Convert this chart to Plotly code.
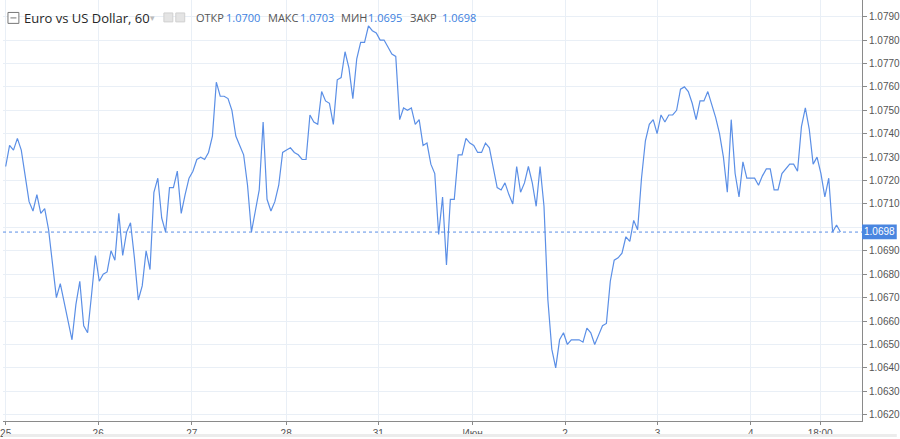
import plotly.graph_objects as go

# Hourly closing prices (EUR/USD, 60-minute bars)
prices = [
    1.0726, 1.0735, 1.0733, 1.0738, 1.0733, 1.0722, 1.0711, 1.0707, 1.0714, 1.0706,
    1.0708, 1.0699, 1.0685, 1.0670, 1.0676, 1.0668, 1.0660, 1.0652, 1.0667, 1.0677,
    1.0658, 1.0655, 1.0671, 1.0688, 1.0677, 1.0680, 1.0681, 1.0690, 1.0686, 1.0706,
    1.0688, 1.0698, 1.0702, 1.0687, 1.0669, 1.0675, 1.0690, 1.0682, 1.0715, 1.0721,
    1.0704, 1.0698, 1.0717, 1.0717, 1.0724, 1.0706, 1.0714, 1.0721, 1.0724, 1.0729,
    1.0730, 1.0729, 1.0732, 1.0739, 1.0762, 1.0756, 1.0756, 1.0755, 1.0750, 1.0739,
    1.0735, 1.0731, 1.0718, 1.0698, 1.0707, 1.0716, 1.0745, 1.0712, 1.0707, 1.0711,
    1.0718, 1.0732, 1.0733, 1.0734, 1.0732, 1.0731, 1.0729, 1.0729, 1.0748, 1.0745,
    1.0744, 1.0758, 1.0754, 1.0753, 1.0744, 1.0763, 1.0764, 1.0775, 1.0768, 1.0755,
    1.0772, 1.0779, 1.0779, 1.0786, 1.0784, 1.0783, 1.0780, 1.0780, 1.0777, 1.0774,
    1.0773, 1.0746, 1.0751, 1.0750, 1.0751, 1.0744, 1.0746, 1.0735, 1.0736, 1.0727,
    1.0723, 1.0697, 1.0713, 1.0684, 1.0712, 1.0712, 1.0731, 1.0731, 1.0738, 1.0736,
    1.0735, 1.0732, 1.0732, 1.0736, 1.0734, 1.0726, 1.0717, 1.0716, 1.0719, 1.0714,
    1.0710, 1.0726, 1.0715, 1.0719, 1.0726, 1.0719, 1.0709, 1.0726, 1.0709, 1.0669,
    1.0648, 1.0640, 1.0652, 1.0655, 1.0650, 1.0652, 1.0652, 1.0652, 1.0651, 1.0657,
    1.0655, 1.0650, 1.0654, 1.0658, 1.0659, 1.0677, 1.0686, 1.0687, 1.0689, 1.0696,
    1.0694, 1.0703, 1.0699, 1.0721, 1.0737, 1.0744, 1.0746, 1.0740, 1.0748, 1.0745,
    1.0748, 1.0748, 1.0750, 1.0759, 1.0760, 1.0758, 1.0753, 1.0746, 1.0754, 1.0754,
    1.0758, 1.0753, 1.0747, 1.0740, 1.0730, 1.0715, 1.0746, 1.0723, 1.0713, 1.0728,
    1.0721, 1.0721, 1.0721, 1.0718, 1.0722, 1.0725, 1.0725, 1.0716, 1.0716, 1.0723,
    1.0725, 1.0727, 1.0727, 1.0724, 1.0743, 1.0751, 1.0742, 1.0727, 1.0730, 1.0723,
    1.0713, 1.0721, 1.0698, 1.0701, 1.0698,
]
bar_index = list(range(len(prices)))

# Time-axis labels and the bar positions where they sit
x_tick_labels = ["25", "26", "27", "28", "31", "Июн", "2", "3", "4", "18:00"]
x_tick_bars = [0, 23.7, 47.7, 71.9, 95.5, 119.7, 143.4, 167.1, 191.0, 208.8]

# Price-axis ticks (the 1.0700 label sits under the last-price box)
y_tick_values = [round(1.0620 + 0.001 * k, 4) for k in range(18)]
y_tick_labels = ["" if abs(v - 1.0700) < 1e-9 else f"{v:.4f}" for v in y_tick_values]

# Header
symbol_title = "Euro vs US Dollar, 60"
ohlc_labels = ["ОТКР", "МАКС", "МИН", "ЗАКР"]
ohlc_values = ["1.0700", "1.0703", "1.0695", "1.0698"]
last_price = prices[-1]

LINE = "#5b8fe6"
GRID = "#e9eff6"
AXIS = "#8a8a8a"
TXT = "#555555"

W, H = 900, 439
ML, MR, MT, MB = 0, 35, 0, 16
PW, PH = W - ML - MR, H - MT - MB


def px(xp):
    return (xp - ML) / PW


def py(yp):
    return (H - MB - yp) / PH


fig = go.Figure()
fig.add_trace(go.Scatter(
    x=bar_index, y=prices, mode="lines",
    line=dict(color=LINE, width=1.2),
    hoverinfo="skip", showlegend=False,
))

shapes = []
# dotted last-price line
shapes.append(dict(type="line", xref="paper", yref="y", x0=0, x1=1,
                   y0=last_price, y1=last_price,
                   line=dict(color=LINE, width=1, dash="dot")))
# price label box on the axis
shapes.append(dict(type="rect", xref="paper", yref="paper",
                   x0=1.0, x1=px(900), y0=py(240.5), y1=py(225.5),
                   fillcolor="#4a86e0", line=dict(width=0), layer="above"))
# header icons
shapes.append(dict(type="rect", xref="paper", yref="paper",
                   x0=px(5), x1=px(16), y0=py(23.5), y1=py(12.5),
                   line=dict(color="#777777", width=1), fillcolor="white"))
shapes.append(dict(type="line", xref="paper", yref="paper",
                   x0=px(7.5), x1=px(13.5), y0=py(18), y1=py(18),
                   line=dict(color="#777777", width=1)))
for x0 in (162, 174):
    shapes.append(dict(type="rect", xref="paper", yref="paper",
                       x0=px(x0), x1=px(x0 + 9), y0=py(22), y1=py(13),
                       line=dict(color="#d0d0d0", width=1), fillcolor="#e4e4e4"))
# bottom gray strip
shapes.append(dict(type="rect", xref="paper", yref="paper",
                   x0=px(0), x1=px(900), y0=py(439), y1=py(436),
                   fillcolor="#ececec", line=dict(width=0)))

annotations = []
annotations.append(dict(xref="paper", yref="paper", x=px(19), y=py(18),
                        xanchor="left", yanchor="middle", showarrow=False,
                        text=symbol_title,
                        font=dict(family="Open Sans, sans-serif", size=13, color="#262626")))
annotations.append(dict(xref="paper", yref="paper", x=px(146), y=py(18),
                        xanchor="left", yanchor="middle", showarrow=False,
                        text="▾", font=dict(family="DejaVu Sans", size=9, color="#bbbbbb")))
label_x = [192, 265, 338, 408]
value_x = [223, 297, 366, 440]
for lab, val, lx, vx in zip(ohlc_labels, ohlc_values, label_x, value_x):
    annotations.append(dict(xref="paper", yref="paper", x=px(lx), y=py(18),
                            xanchor="left", yanchor="middle", showarrow=False,
                            text=lab,
                            font=dict(family="Open Sans, sans-serif", size=11, color=TXT)))
    annotations.append(dict(xref="paper", yref="paper", x=px(vx), y=py(18),
                            xanchor="left", yanchor="middle", showarrow=False,
                            text=val,
                            font=dict(family="Open Sans, sans-serif", size=11, color="#3d7fe0")))
annotations.append(dict(xref="paper", yref="paper", x=px(882.5), y=py(233),
                        xanchor="center", yanchor="middle", showarrow=False,
                        text=f"{last_price:.4f}",
                        font=dict(family="Liberation Sans, Arial", size=10, color="white")))

# bar index <-> pixel: bar 0 at 2.7 px, 3.928 px per bar
x0_range = (0 - 2.7) / 3.928
x1_range = (PW - 2.7) / 3.928
# price <-> pixel: 1.0790 at 16.7 px, 23.53 px per 0.001
y_top = 1.0790 + 16.7 / 23530
y_bot = 1.0790 - (PH - 16.7) / 23530

fig.update_layout(
    width=W, height=H,
    margin=dict(l=ML, r=MR, t=MT, b=MB, pad=0),
    paper_bgcolor="white", plot_bgcolor="white",
    shapes=shapes, annotations=annotations,
    xaxis=dict(range=[x0_range, x1_range], tickvals=x_tick_bars, ticktext=x_tick_labels,
               showgrid=True, gridcolor=GRID, gridwidth=1, zeroline=False,
               showline=True, linecolor=AXIS, linewidth=1, mirror=False,
               ticks="outside", ticklen=3, tickcolor=AXIS, ticklabeloverflow="allow",
               tickfont=dict(family="Liberation Sans Narrow, Liberation Sans, Arial", size=10, color=TXT),
               fixedrange=True),
    yaxis=dict(range=[y_bot, y_top], side="right", tickvals=y_tick_values, ticktext=y_tick_labels,
               showgrid=True, gridcolor=GRID, gridwidth=1, zeroline=False,
               showline=True, linecolor=AXIS, linewidth=1,
               ticks="outside", ticklen=4, tickcolor=AXIS,
               tickfont=dict(family="Liberation Sans, Arial", size=10, color=TXT),
               fixedrange=True),
)

fig.write_html("out.html", config={"displayModeBar": False},
               post_script="document.body.style.margin='0';document.body.style.overflow='hidden';")
